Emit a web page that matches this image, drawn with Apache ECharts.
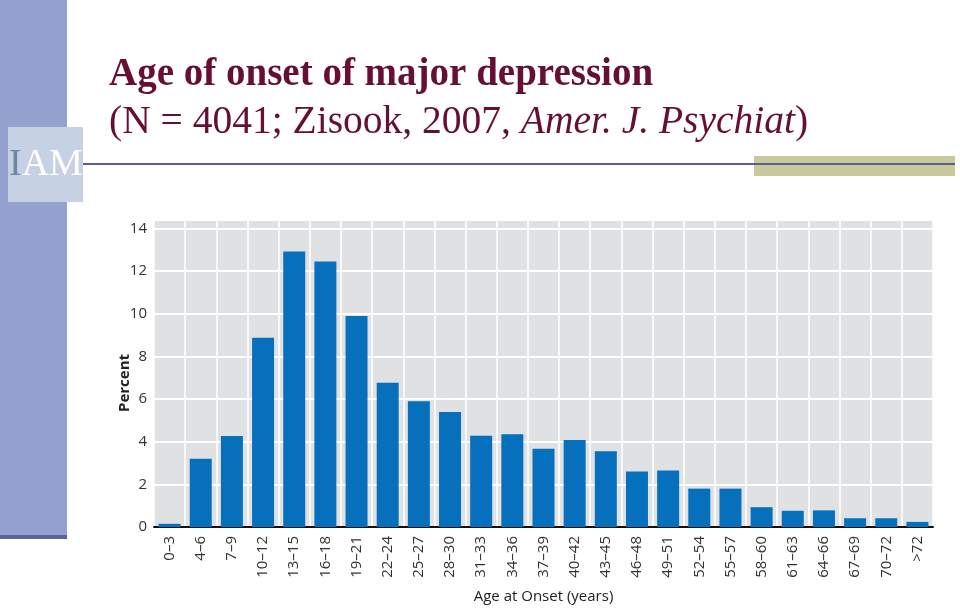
<!DOCTYPE html>
<html>
<head>
<meta charset="utf-8">
<script src="https://cdn.jsdelivr.net/npm/echarts@6/dist/echarts.min.js"></script>
<style>
html,body{margin:0;padding:0;background:#fff;}
#c{width:960px;height:609px;}
</style>
</head>
<body>
<div id="c"></div>
<script>
var categories = ['0–3','4–6','7–9','10–12','13–15','16–18','19–21','22–24','25–27','28–30','31–33','34–36','37–39','40–42','43–45','46–48','49–51','52–54','55–57','58–60','61–63','64–66','67–69','70–72','>72'];
var percentValues = [0.15,3.2,4.27,8.88,12.92,12.45,9.9,6.77,5.9,5.4,4.28,4.35,3.67,4.08,3.55,2.6,2.65,1.8,1.8,0.93,0.76,0.78,0.41,0.41,0.24];
var yTicks = [0,2,4,6,8,10,12,14];

var chart = echarts.init(document.getElementById('c'), null, {renderer:'canvas'});
var option = {
  animation: false,
  backgroundColor: '#ffffff',
  grid: {left:154, right:27, top:220, bottom:82, show:true, backgroundColor:'#e0e1e3', borderWidth:0},
  xAxis: {
    type:'category',
    data: categories,
    boundaryGap: true,
    name: 'Age at Onset (years)',
    nameLocation: 'middle',
    nameGap: 62,
    nameTextStyle: {fontFamily:'Open Sans', fontSize:15, color:'#222'},
    axisLine: {show:true, lineStyle:{color:'#111', width:2}},
    axisTick: {show:false},
    axisLabel: {rotate:90, fontFamily:'Open Sans', fontSize:15, color:'#333', margin:9, interval:0},
    splitLine: {show:true, lineStyle:{color:'#ffffff', width:1.5}}
  },
  yAxis: {
    type:'value',
    min: 0, max: 14.4, interval: 2,
    axisLine: {show:false},
    axisTick: {show:false},
    axisLabel: {fontFamily:'Open Sans', fontSize:15, color:'#333', margin:7,
      formatter: function(v){ return yTicks.indexOf(v) >= 0 ? String(v) : ''; }},
    splitLine: {show:true, lineStyle:{color:'#ffffff', width:2}}
  },
  series: [{
    type:'bar',
    data: percentValues,
    barWidth: 22,
    itemStyle: {color:'#0670bd'}
  }],
  graphic: [
    {type:'rect', shape:{x:0,y:0,width:67,height:535}, style:{fill:'#95a2cf'}, z:-1},
    {type:'rect', shape:{x:0,y:535,width:67,height:4}, style:{fill:'#5d6398'}, z:-1},
    {type:'rect', shape:{x:754,y:156,width:201,height:20}, style:{fill:'#c9c99b'}},
    {type:'rect', shape:{x:83,y:163,width:872,height:2}, style:{fill:'#5b5d97'}, z:10},
    {type:'rect', shape:{x:8,y:127,width:75,height:75}, style:{fill:'#c7d1e4'}},
    {type:'text', left:9, top:146, style:{
      text:'{i|I}{am|AM}',
      rich:{
        i:{fontFamily:'Liberation Serif', fontSize:38, fill:'#6b88a6'},
        am:{fontFamily:'Liberation Serif', fontSize:38, fill:'#ffffff'}
      }
    }},
    {type:'text', left:109, top:55, style:{
      text:'Age of onset of major depression',
      font:'bold 39px "Liberation Serif"', fill:'#660e34'
    }},
    {type:'text', left:109, top:103, style:{
      text:'{n|(N = 4041; Zisook, 2007, }{it|Amer. J. Psychiat}{n|)}',
      rich:{
        n:{fontFamily:'Liberation Serif', fontSize:39.5, fill:'#660e34'},
        it:{fontFamily:'Liberation Serif', fontSize:39.5, fontStyle:'italic', fill:'#660e34'}
      }
    }},
    {type:'text', x:125, y:383, rotation:Math.PI/2, style:{
      text:'Percent', font:'bold 15px "Open Sans"', fill:'#222', align:'center', verticalAlign:'middle'
    }}
  ]
};
chart.setOption(option);
</script>
</body>
</html>
